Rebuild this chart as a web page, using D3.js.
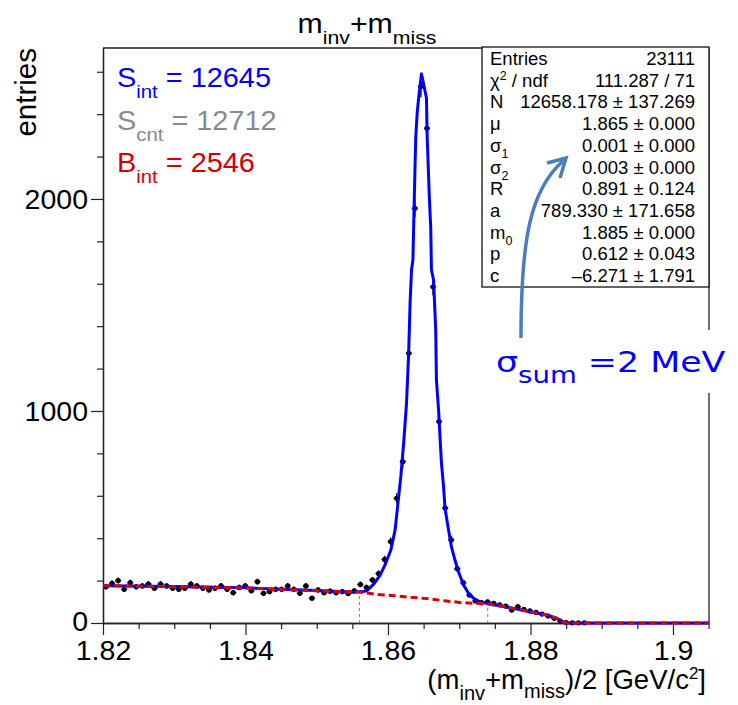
<!DOCTYPE html>
<html><head><meta charset="utf-8">
<script src="https://cdn.jsdelivr.net/npm/d3@7"></script>
<style>
body{margin:0;background:#fff}
svg{display:block}
text{font-family:"Liberation Sans",Arial,Helvetica,sans-serif;fill:#000}
</style>
</head><body>
<svg id="c" width="738" height="705"></svg>
<script>
// ---------------- data ----------------
const histRange = [1.82, 1.905];
const counts = [
 171,187,200,159,190,171,175,184,164,184,
 175,164,159,164,184,175,164,156,164,175,
 159,143,168,175,152,195,140,148,159,159,
 175,159,140,175,117,156,143,150,143,148,
 139,152,182,168,203,233,300,384,588,761,
 1272,1956,2530,2333,1586,950,542,392,256,190,
 132,104,96,100,93,86,80,61,77,64,
 57,50,42,33,22,9,2,1,1,1,
 0,0,0,0,0,0,0,0,0,0,
 0,0,0,0,0,0,0,0,0,0
];
const fitX = [1.820,1.830,1.840,1.850,1.855,1.8565,1.8570,1.8580,1.8589,1.8596,1.8604,1.8610,1.8614,1.8618,1.8622,1.8626,1.8629,1.8631,1.8633,1.8635,1.8636,1.8638,1.8639,1.8641,1.8643,1.8647,1.8654,1.8655,1.8658,1.8660,1.8661,1.8664,1.8667,1.8668,1.8671,1.8673,1.8675,1.8678,1.8680,1.8685,1.8689,1.8694,1.8699,1.8706,1.8713,1.8720,1.8729,1.8739,1.8750,1.8776,1.8799,1.8823,1.8837,1.8845,1.8850,1.9050];
const fitY = [176,172,166,153,145,148,152,183,226,275,344,439,565,690,848,1036,1272,1508,1665,1712,1868,2160,2292,2406,2476,2590,2476,2292,2011,1863,1665,1618,1382,1146,1005,879,755,643,542,439,360,297,242,179,140,117,100,93,85,69,53,38,22,6,0,0];
const bkgX = [1.820,1.830,1.840,1.850,1.856,1.8585,1.8609,1.8632,1.8656,1.8679,1.8703,1.8729,1.8739,1.8750,1.8776,1.8799,1.8823,1.8837,1.8845,1.8850,1.9050];
const bkgY = [176,171,165,152,146,135,129,121,115,105,96,92,90,85,69,53,38,22,6,0,0];
const intLinesX = [1.856, 1.874];
const intLinesTop = [146, 90];

const xTicks = [1.82,1.84,1.86,1.88,1.90];
const xTickLabels = ["1.82","1.84","1.86","1.88","1.9"];
const yTicks = [0,1000,2000];
const yTickLabels = ["0","1000","2000"];
const yMax = 2712;

const legendNames = ["S","S","B"];
const legendSubs = ["int","cnt","int"];
const legendValues = ["12645","12712","2546"];
const legendColors = ["#0000ff","#8a8a8a","#d40000"];

const statLabels = ["Entries","χ^2 / ndf","N","μ","σ_1","σ_2","R","a","m_0","p","c"];
const statValues = ["23111","111.287 / 71","12658.178 ± 137.269","1.865 ± 0.000","0.001 ± 0.000","0.003 ± 0.000","0.891 ± 0.124","789.330 ± 171.658","1.885 ± 0.000","0.612 ± 0.043","–6.271 ± 1.791"];

// ---------------- layout ----------------
const L = 103, R = 708.6, T = 48, B = 623;
const svg = d3.select("#c");
const x = d3.scaleLinear().domain(histRange).range([L, R]);
const y = d3.scaleLinear().domain([0, yMax]).range([B, T]);

function rich(sel, parts, baseSize){
  let prev = 0;
  parts.forEach(p=>{
    const shift = p[1]||0;
    sel.append("tspan").attr("dy", shift - prev).attr("font-size", p[2]||baseSize).text(p[0]);
    prev = shift;
  });
}

// frame
svg.append("line").attr("x1",L).attr("x2",709).attr("y1",T).attr("y2",T).attr("stroke","#222").attr("stroke-width",1.3);
svg.append("line").attr("x1",709).attr("x2",709).attr("y1",T).attr("y2",B).attr("stroke","#222").attr("stroke-width",1.3);

// axes
const xAxis = svg.append("g").attr("transform",`translate(0,${B})`)
  .call(d3.axisBottom(x).tickValues(xTicks).tickFormat((d,i)=>xTickLabels[i]).tickSizeInner(12).tickSizeOuter(0).tickPadding(5));
const xMinor = d3.range(1.825, 1.9051, 0.005).filter(v=>!xTicks.some(t=>Math.abs(t-v)<1e-6));
svg.append("g").attr("transform",`translate(0,${B})`)
  .call(d3.axisBottom(x).tickValues(xMinor).tickFormat("").tickSizeInner(6).tickSizeOuter(0));
const yAxis = svg.append("g").attr("transform",`translate(${L},0)`)
  .call(d3.axisLeft(y).tickValues(yTicks).tickFormat((d,i)=>yTickLabels[i]).tickSizeInner(12).tickSizeOuter(0).tickPadding(3));
const yMinor = d3.range(200, 2700, 200).filter(v=>!yTicks.includes(v));
svg.append("g").attr("transform",`translate(${L},0)`)
  .call(d3.axisLeft(y).tickValues(yMinor).tickFormat("").tickSizeInner(6).tickSizeOuter(0));
svg.selectAll(".domain").attr("stroke","#222").attr("stroke-width",1.3);
svg.selectAll(".tick line").attr("stroke","#222").attr("stroke-width",1.2);
xAxis.selectAll("text").attr("font-size",28.5).attr("font-family","Liberation Sans, Arial, sans-serif").attr("fill","#000");
yAxis.selectAll("text").attr("font-size",28.5).attr("font-family","Liberation Sans, Arial, sans-serif").attr("fill","#000");
yAxis.selectAll("text").filter((d)=>d===0).attr("dy","0.25em");

// integration range lines
svg.append("g").selectAll("line").data(intLinesX).join("line")
  .attr("x1",d=>x(d)).attr("x2",d=>x(d)).attr("y1",y(0)).attr("y2",(d,i)=>y(intLinesTop[i]))
  .attr("stroke","#888").attr("stroke-width",1).attr("stroke-dasharray","3,3");

// histogram points
const w = (histRange[1]-histRange[0])/counts.length;
const bins = counts.map((c,i)=>({xc: histRange[0]+(i+0.5)*w, c})).filter(d=>d.c>0);
const gp = svg.append("g");
gp.selectAll("line.h").data(bins).join("line").attr("class","h")
  .attr("x1",d=>x(d.xc-w/2)).attr("x2",d=>x(d.xc+w/2)).attr("y1",d=>y(d.c)).attr("y2",d=>y(d.c))
  .attr("stroke","#000").attr("stroke-width",1.4);
gp.selectAll("line.v").data(bins).join("line").attr("class","v")
  .attr("x1",d=>x(d.xc)).attr("x2",d=>x(d.xc)).attr("y1",d=>y(d.c-Math.sqrt(d.c))).attr("y2",d=>y(d.c+Math.sqrt(d.c)))
  .attr("stroke","#000").attr("stroke-width",1.4);
gp.selectAll("circle").data(bins).join("circle")
  .attr("cx",d=>x(d.xc)).attr("cy",d=>y(d.c)).attr("r",2.6).attr("fill","#000");

// fit curve + background
const line = d3.line().x(d=>x(d[0])).y(d=>y(d[1]));
svg.append("path").datum(fitX.map((v,i)=>[v,fitY[i]])).attr("d",line)
  .attr("fill","none").attr("stroke","#0000ff").attr("stroke-width",3).attr("stroke-linejoin","round");
svg.append("path").datum(bkgX.map((v,i)=>[v,bkgY[i]])).attr("d",line)
  .attr("fill","none").attr("stroke","#dd0000").attr("stroke-width",3).attr("stroke-dasharray","7,4");

// title
const title = svg.append("text").attr("transform","translate(367,33) scale(1.12,1)").attr("text-anchor","middle").attr("font-size",27);
rich(title, [["m",0],["inv",11,19],["+m",0],["miss",11,19]], 27);

// y title
svg.append("text").attr("transform","translate(36,48) rotate(-90)").attr("text-anchor","end").attr("font-size",29.5).text("entries");

// x title
const xt = svg.append("text").attr("x",706).attr("y",689).attr("text-anchor","end").attr("font-size",27.5);
rich(xt, [["(m",0],["inv",11,20],["+m",0],["miss",9,20],[")/2 [GeV/c",0],["2",-10,17],["]",0]], 27.5);

// legend
legendNames.forEach((n,i)=>{
  const t = svg.append("text").attr("transform",`translate(117,${87+i*42.5}) scale(1.07,1)`).attr("font-size",27).style("fill",legendColors[i]);
  rich(t, [[n,0],[legendSubs[i],11,19],[" = "+legendValues[i],0]], 27);
  t.selectAll("tspan").style("fill",legendColors[i]);
});

// stats box
svg.append("rect").attr("x",482).attr("y",47).attr("width",227).attr("height",240)
  .attr("fill","#fff").attr("stroke","#111").attr("stroke-width",1.3);
statLabels.forEach((lab,i)=>{
  const yy = 65 + i*21.7;
  const t = svg.append("text").attr("x",490).attr("y",yy).attr("font-size",18.5);
  const m = lab.match(/^(.*?)([_^])(.)(.*)$/);
  if(m){
    const sh = m[2]==="_" ? 6 : -7;
    rich(t, [[m[1],0],[m[3],sh,12.5],[m[4],0]], 18.5);
  } else t.text(lab);
  svg.append("text").attr("x",695).attr("y",yy).attr("text-anchor","end").attr("font-size",18.5).text(statValues[i]);
});

// annotation
svg.append("rect").attr("x",490).attr("y",330).attr("width",248).attr("height",63).attr("fill","#fff");
const arrowColor = "#4a7ebb";
svg.append("path").attr("d","M521,338 C521,240 530,190 563,161")
  .attr("fill","none").attr("stroke",arrowColor).attr("stroke-width",3.5);
svg.append("path").attr("d","M547,163 L566,158 L560,178")
  .attr("fill","none").attr("stroke",arrowColor).attr("stroke-width",3.5).attr("stroke-linejoin","miter");
const ann = svg.append("text").attr("transform","translate(496,372) scale(1.2,1)").attr("font-size",29)
  .style("font-family","'DejaVu Sans',Verdana,sans-serif").style("fill","#0000ff");
rich(ann, [["σ",0],["sum",11,23],["  =2 MeV",0]], 29);
ann.selectAll("tspan").style("fill","#0000ff");
</script>
</body></html>
